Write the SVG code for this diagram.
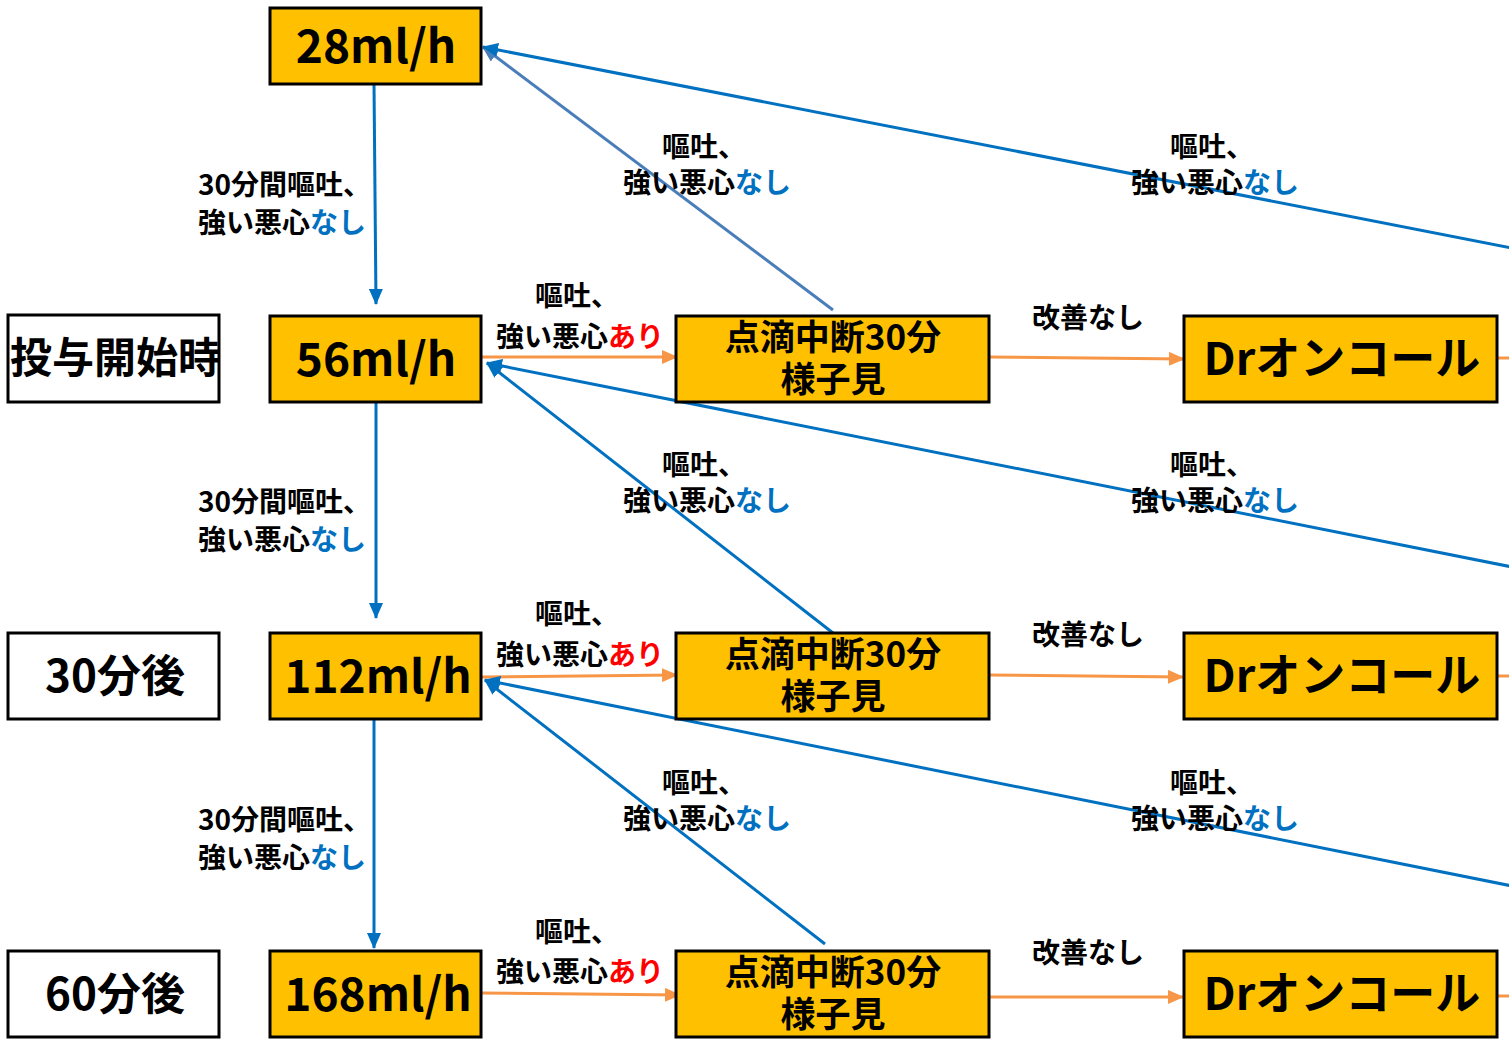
<svg xmlns="http://www.w3.org/2000/svg" width="1509" height="1039" viewBox="0 0 1509 1039">
<defs>
<style>
text{font-family:"Noto Sans CJK JP","Noto Sans",sans-serif;font-weight:700;fill:#000}
.box{fill:#FFC000;stroke:#000;stroke-width:3}
.wbox{fill:#fff;stroke:#000;stroke-width:3}
.big{font-size:46px;text-anchor:middle}
.dr{font-size:45px;text-anchor:middle}
.mid{font-size:35px;text-anchor:middle}
.lbl{font-size:28px}
.c{text-anchor:middle}
.blue{stroke:#0070C0;stroke-width:3;fill:none}
.steel{stroke:#4A7EBB;stroke-width:3;fill:none}
.orng{stroke:#F79646;stroke-width:3;fill:none}
.nb{fill:#0070C0}
.ar{fill:#FF0000}
</style>
<marker id="mb" viewBox="0 0 16 14" refX="15" refY="7" markerWidth="16" markerHeight="14" markerUnits="userSpaceOnUse" orient="auto"><path d="M0,0 L16,7 L0,14 z" fill="#0070C0"/></marker>
<marker id="ms" viewBox="0 0 16 14" refX="15" refY="7" markerWidth="16" markerHeight="14" markerUnits="userSpaceOnUse" orient="auto"><path d="M0,0 L16,7 L0,14 z" fill="#4A7EBB"/></marker>
<marker id="mo" viewBox="0 0 16 14" refX="15" refY="7" markerWidth="16" markerHeight="14" markerUnits="userSpaceOnUse" orient="auto"><path d="M0,0 L16,7 L0,14 z" fill="#F79646"/></marker>
</defs>
<rect width="1509" height="1039" fill="#fff"/>

<g id="connectors">
<line class="blue" x1="374" y1="84" x2="376" y2="304" marker-end="url(#mb)"/>
<line class="blue" x1="376" y1="402" x2="376" y2="618" marker-end="url(#mb)"/>
<line class="blue" x1="374" y1="719" x2="374" y2="948" marker-end="url(#mb)"/>
<line class="orng" x1="481" y1="357" x2="677" y2="357" marker-end="url(#mo)"/>
<line class="orng" x1="989" y1="357" x2="1184" y2="359" marker-end="url(#mo)"/>
<line class="orng" x1="1497" y1="358" x2="1509" y2="358"/>
<line class="orng" x1="481" y1="677" x2="677" y2="675" marker-end="url(#mo)"/>
<line class="orng" x1="989" y1="675" x2="1183" y2="677" marker-end="url(#mo)"/>
<line class="orng" x1="1497" y1="676" x2="1509" y2="676"/>
<line class="orng" x1="481" y1="993" x2="680" y2="995" marker-end="url(#mo)"/>
<line class="orng" x1="989" y1="997" x2="1183" y2="997" marker-end="url(#mo)"/>
<line class="orng" x1="1497" y1="996" x2="1509" y2="996"/>
<line class="steel" x1="833" y1="310" x2="483" y2="47" marker-end="url(#ms)"/>
<line class="blue" x1="1512" y1="248" x2="483" y2="47" marker-end="url(#mb)"/>
<line class="blue" x1="833" y1="633" x2="487" y2="363" marker-end="url(#mb)"/>
<line class="blue" x1="1512" y1="567" x2="487" y2="363" marker-end="url(#mb)"/>
<line class="blue" x1="825" y1="944" x2="485" y2="680" marker-end="url(#mb)"/>
<line class="blue" x1="1512" y1="886" x2="485" y2="680" marker-end="url(#mb)"/>
</g>

<g id="labels">
<text class="lbl" x="198" y="195">30分間嘔吐、</text>
<text class="lbl" x="198" y="233">強い悪心<tspan class="nb">なし</tspan></text>
<text class="lbl" x="198" y="512">30分間嘔吐、</text>
<text class="lbl" x="198" y="550">強い悪心<tspan class="nb">なし</tspan></text>
<text class="lbl" x="198" y="830">30分間嘔吐、</text>
<text class="lbl" x="198" y="868">強い悪心<tspan class="nb">なし</tspan></text>

<text class="lbl c" x="704" y="157">嘔吐、</text>
<text class="lbl c" x="707" y="193">強い悪心<tspan class="nb">なし</tspan></text>
<text class="lbl c" x="1212" y="157">嘔吐、</text>
<text class="lbl c" x="1215" y="193">強い悪心<tspan class="nb">なし</tspan></text>
<text class="lbl c" x="704" y="475">嘔吐、</text>
<text class="lbl c" x="707" y="511">強い悪心<tspan class="nb">なし</tspan></text>
<text class="lbl c" x="1212" y="475">嘔吐、</text>
<text class="lbl c" x="1215" y="511">強い悪心<tspan class="nb">なし</tspan></text>
<text class="lbl c" x="704" y="793">嘔吐、</text>
<text class="lbl c" x="707" y="829">強い悪心<tspan class="nb">なし</tspan></text>
<text class="lbl c" x="1212" y="793">嘔吐、</text>
<text class="lbl c" x="1215" y="829">強い悪心<tspan class="nb">なし</tspan></text>

<text class="lbl c" x="577" y="306">嘔吐、</text>
<text class="lbl c" x="580" y="347">強い悪心<tspan class="ar">あり</tspan></text>
<text class="lbl c" x="577" y="624">嘔吐、</text>
<text class="lbl c" x="580" y="665">強い悪心<tspan class="ar">あり</tspan></text>
<text class="lbl c" x="577" y="942">嘔吐、</text>
<text class="lbl c" x="580" y="982">強い悪心<tspan class="ar">あり</tspan></text>

<text class="lbl c" x="1088" y="328">改善なし</text>
<text class="lbl c" x="1088" y="645">改善なし</text>
<text class="lbl c" x="1088" y="963">改善なし</text>
</g>

<g id="n28"><rect class="box" x="270" y="8" width="211" height="76"/><text class="big" x="376" y="63">28ml/h</text></g>
<g id="n56"><rect class="box" x="270" y="316" width="211" height="86"/><text class="big" x="376" y="376">56ml/h</text></g>
<g id="n112"><rect class="box" x="270" y="633" width="211" height="86"/><text class="big" x="378" y="693">112ml/h</text></g>
<g id="n168"><rect class="box" x="270" y="951" width="211" height="86"/><text class="big" x="378" y="1011">168ml/h</text></g>

<g id="t0"><rect class="wbox" x="8" y="315" width="211" height="87"/><text class="big" x="115" y="373" style="font-size:42px">投与開始時</text></g>
<g id="t30"><rect class="wbox" x="8" y="633" width="211" height="86"/><text class="big" x="115" y="692" style="font-size:44px">30分後</text></g>
<g id="t60"><rect class="wbox" x="8" y="951" width="211" height="86"/><text class="big" x="115" y="1010" style="font-size:44px">60分後</text></g>

<g id="s1"><rect class="box" x="676" y="316" width="313" height="86"/><text class="mid" x="833" y="350">点滴中断30分<tspan x="833" dy="42">様子見</tspan></text></g>
<g id="s2"><rect class="box" x="676" y="633" width="313" height="86"/><text class="mid" x="833" y="667">点滴中断30分<tspan x="833" dy="42">様子見</tspan></text></g>
<g id="s3"><rect class="box" x="676" y="951" width="313" height="86"/><text class="mid" x="833" y="985">点滴中断30分<tspan x="833" dy="42">様子見</tspan></text></g>

<g id="d1"><rect class="box" x="1184" y="316" width="313" height="86"/><text class="dr" x="1342" y="375">Drオンコール</text></g>
<g id="d2"><rect class="box" x="1184" y="633" width="313" height="86"/><text class="dr" x="1342" y="692">Drオンコール</text></g>
<g id="d3"><rect class="box" x="1184" y="951" width="313" height="86"/><text class="dr" x="1342" y="1010">Drオンコール</text></g>
</svg>
